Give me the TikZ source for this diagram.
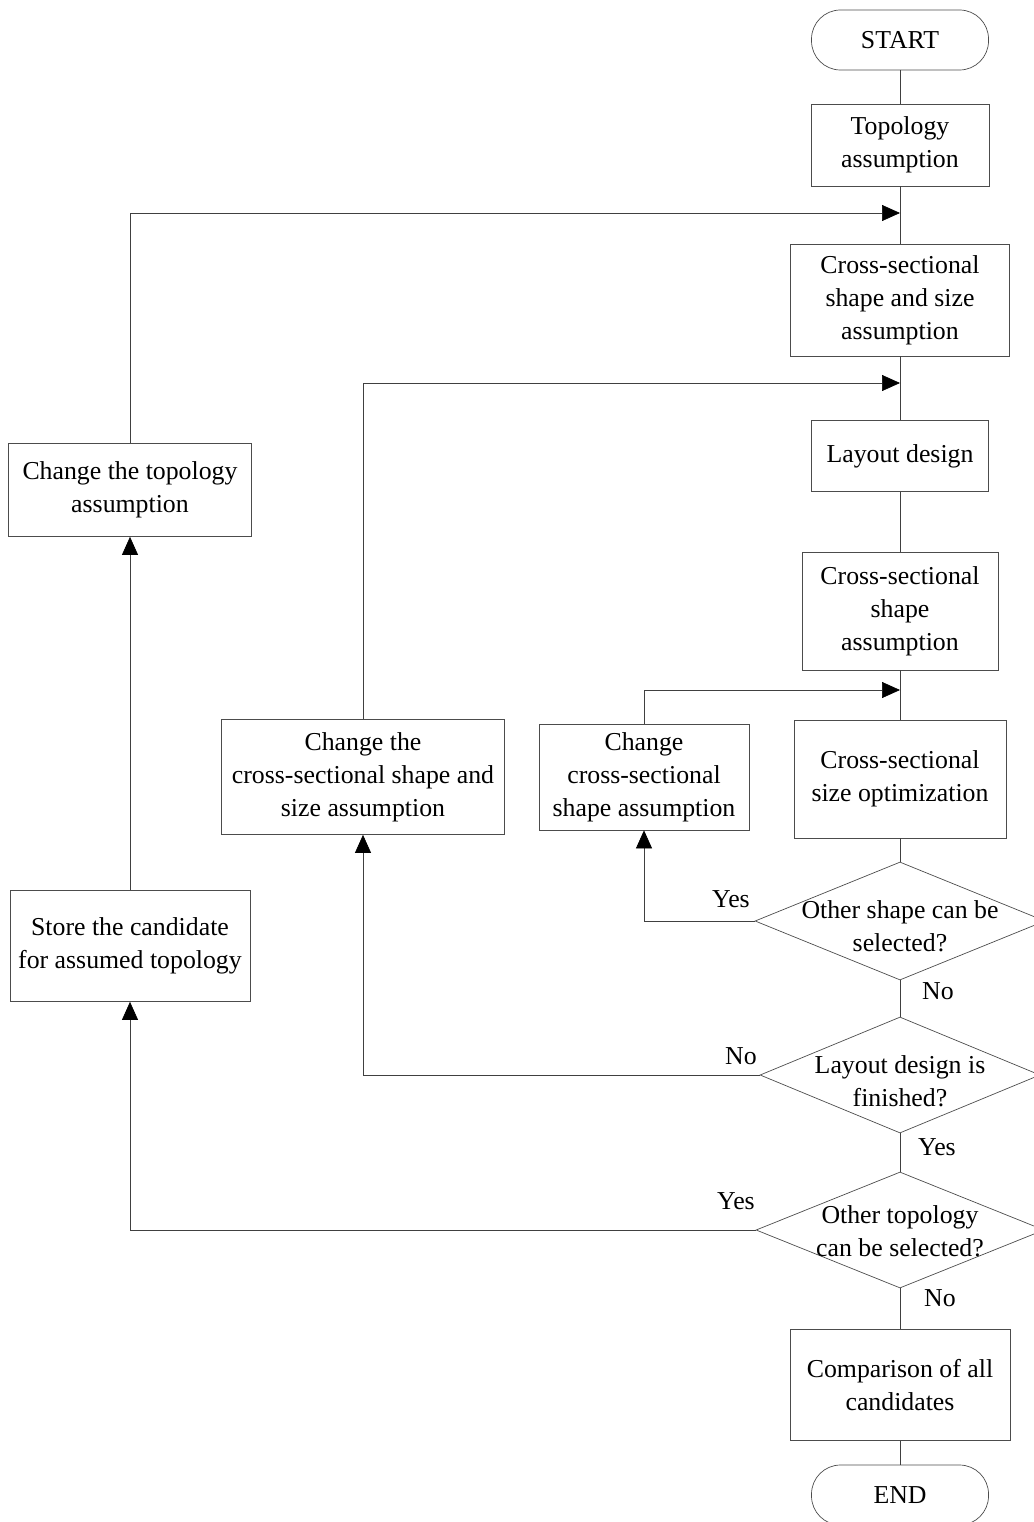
\documentclass[tikz,border=0pt]{standalone}
\usepackage{fontspec}
\setmainfont{Liberation Serif}
\usetikzlibrary{shapes.geometric,arrows.meta}
\begin{document}
\begin{tikzpicture}[x=1pt,y=-1pt,
  every node/.style={font=\fontsize{25.8}{33}\selectfont},
  box/.style={draw=black!70, line width=0.7pt, align=center, inner sep=0pt},
  term/.style={box, rounded corners=29pt},
  dec/.style={draw=black!70, line width=0.7pt, shape=diamond, inner sep=0pt},
  line/.style={draw=black!75, line width=0.7pt},
  arr/.style={line, -{Triangle[length=18pt,width=16pt,color=black,fill=black]}},
  lbl/.style={inner sep=0pt}]
\useasboundingbox (0,0) rectangle (1033,1522);
% main column
\node[term, minimum width=177pt, minimum height=60pt] (start) at (900,40) {START};
\node[box, minimum width=178pt, minimum height=82pt] (topo) at (900,145) {Topology\\assumption};
\node[box, minimum width=219pt, minimum height=112pt] (cssa) at (900,300) {Cross-sectional\\shape and size\\assumption};
\node[box, minimum width=177pt, minimum height=71pt] (layout) at (900,456) {Layout design};
\node[box, minimum width=196pt, minimum height=118pt] (csa) at (900,611) {Cross-sectional\\shape\\assumption};
\node[box, minimum width=212pt, minimum height=118pt] (cso) at (900,779) {Cross-sectional\\size optimization};
\node[dec, minimum width=290pt, minimum height=118pt, label={[align=center, yshift=-5pt]center:{Other shape can be\\selected?}}] (d1) at (900,921) {};
\node[dec, minimum width=280pt, minimum height=116pt, label={[align=center, yshift=-6pt]center:{Layout design is\\finished?}}] (d2) at (900,1075) {};
\node[dec, minimum width=288pt, minimum height=116pt, label={[align=center, yshift=-1pt]center:{Other topology\\can be selected?}}] (d3) at (900,1230) {};
\node[box, minimum width=220pt, minimum height=111pt] (comp) at (900,1385) {Comparison of all\\candidates};
\node[term, minimum width=177pt, minimum height=60pt] (end) at (900,1495) {END};
% side boxes
\node[box, minimum width=243pt, minimum height=93pt] (cht) at (130,490) {Change the topology\\assumption};
\node[box, minimum width=240pt, minimum height=111pt] (store) at (130,946) {Store the candidate\\for assumed topology};
\node[box, minimum width=283pt, minimum height=115pt] (chcss) at (363,777) {Change the\\cross-sectional shape and\\size assumption};
\node[box, minimum width=210pt, minimum height=106pt] (chcs) at (644,777) {Change\\cross-sectional\\shape assumption};
% merge points
\coordinate (m1) at (900,213);
\coordinate (m2) at (900,383);
\coordinate (m3) at (900,690);
% main flow
\draw[line] (start) -- (topo) -- (cssa) -- (layout) -- (csa) -- (cso) -- (d1) -- (d2) -- (d3) -- (comp) -- (end);
% feedback
\draw[arr] (cht.north) |- (m1);
\draw[arr] (chcss.north) |- (m2);
\draw[arr] (chcs.north) |- (m3);
\draw[arr] (d1.west) -| (chcs.south);
\draw[arr] (d2.west) -| (chcss.south);
\draw[arr] (d3.west) -| (store.south);
\draw[arr] (store.north) -- (cht.south);
% labels
\node[lbl] (y1) at (731,899) {Yes};
\node[lbl] (n1) at (938,991) {No};
\node[lbl] (n2) at (741,1056) {No};
\node[lbl] (y2) at (937,1147) {Yes};
\node[lbl] (y3) at (736,1201) {Yes};
\node[lbl] (n3) at (940,1298) {No};
\end{tikzpicture}
\end{document}
